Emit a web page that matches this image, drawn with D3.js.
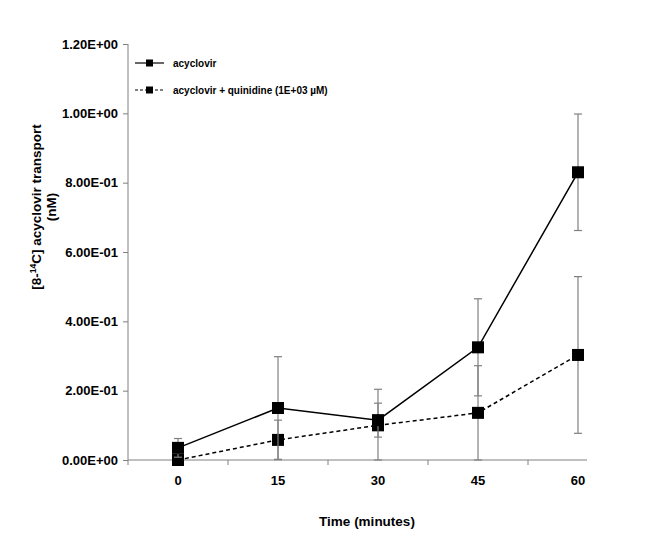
<!DOCTYPE html>
<head>
    <meta charset="utf-8">
    <script src="https://d3js.org/d3.v7.min.js"></script>
</head>
<style>
    body { margin: 0; background: #fff; }
    text { font-family: Arial, "Liberation Sans", sans-serif; font-weight: bold; fill: #000; }
</style>
<body>
    <div id="chart"></div>
</body>

<script>
    // time points (minutes)
    const times = ["0", "15", "30", "45", "60"];
    // acyclovir alone
    const acyclovir = [0.035, 0.150, 0.115, 0.325, 0.830];
    const acyclovirErr = [0.027, 0.148, 0.049, 0.140, 0.168];
    // acyclovir + quinidine
    const quinidine = [0.000, 0.058, 0.100, 0.136, 0.303];
    const quinidineErr = [0.000, 0.057, 0.104, 0.136, 0.226];
    const yTicks = [0, 0.2, 0.4, 0.6, 0.8, 1.0, 1.2];
    const seriesNames = ["acyclovir", "acyclovir + quinidine (1E+03 \u00b5M)"];

    const W = 672, H = 556;
    const margin = {top: 44, right: 85, bottom: 96, left: 128},
        width = W - margin.left - margin.right,
        height = H - margin.top - margin.bottom;

    const svg = d3.select("#chart")
        .append("svg")
        .attr("width", W)
        .attr("height", H)
        .append("g")
        .attr("transform", `translate(${margin.left},${margin.top})`);

    // category bands of 100px, the axis line is cut a little short like the original
    const x = d3.scaleBand()
        .domain(times)
        .range([0, 500]);
    const y = d3.scaleLinear()
        .domain([0, 1.2])
        .range([height, 0]);

    const grey = "#808080";

    // y axis
    const yAxis = svg.append("g")
        .call(d3.axisLeft(y).tickValues(yTicks).tickSize(5).tickPadding(5)
            .tickFormat(d => d.toExponential(2).toUpperCase().replace(/E([+-])(\d)$/, "E$10$2")));
    yAxis.select(".domain").attr("stroke", grey).attr("d", `M0,0V${height}`);
    yAxis.selectAll(".tick line").attr("stroke", grey);
    yAxis.selectAll(".tick text").style("font-size", "13px");

    // x axis: ticks between categories, labels at centres
    const xg = svg.append("g").attr("transform", `translate(0,${height})`);
    xg.append("line")
        .attr("x1", 0).attr("x2", width)
        .attr("stroke", grey);
    xg.selectAll(".xt")
        .data(times)
        .join("line")
        .attr("x1", d => x(d)).attr("x2", d => x(d))
        .attr("y1", 0).attr("y2", 5)
        .attr("stroke", grey);
    xg.selectAll(".xl")
        .data(times)
        .join("text")
        .attr("x", d => x(d) + x.bandwidth() / 2)
        .attr("y", 25)
        .attr("text-anchor", "middle")
        .style("font-size", "13px")
        .text(d => d);

    // axis titles
    svg.append("text")
        .attr("x", 239)
        .attr("y", height + 66)
        .attr("text-anchor", "middle")
        .style("font-size", "13.5px")
        .text("Time (minutes)");

    const yt = svg.append("text")
        .attr("transform", `translate(-87,${163}) rotate(-90)`)
        .attr("text-anchor", "middle")
        .style("font-size", "13.5px");
    const l1 = yt.append("tspan").attr("x", 0).attr("dy", 0);
    l1.append("tspan").text("[8-");
    l1.append("tspan").attr("dy", -5).style("font-size", "8.5px").text("14");
    l1.append("tspan").attr("dy", 5).text("C] acyclovir transport");
    yt.append("tspan").attr("x", 0).attr("dy", 15).text("(nM)");

    const cx = d => x(d) + x.bandwidth() / 2;

    function drawSeries(vals, errs, dash) {
        const g = svg.append("g");
        const pts = times.map((t, i) => ({t: t, v: vals[i], e: errs[i]}));
        // error bars
        pts.filter(d => d.e > 0).forEach(d => {
            g.append("line")
                .attr("x1", cx(d.t)).attr("x2", cx(d.t))
                .attr("y1", y(d.v + d.e)).attr("y2", y(Math.max(0, d.v - d.e)))
                .attr("stroke", grey).attr("stroke-width", 1.2);
            [d.v + d.e, Math.max(0, d.v - d.e)].forEach(e => {
                g.append("line")
                    .attr("x1", cx(d.t) - 4).attr("x2", cx(d.t) + 4)
                    .attr("y1", y(e)).attr("y2", y(e))
                    .attr("stroke", grey).attr("stroke-width", 1.2);
            });
        });
        g.append("path")
            .datum(pts)
            .attr("fill", "none")
            .attr("stroke", "#000")
            .attr("stroke-width", 1.5)
            .attr("stroke-dasharray", dash)
            .attr("d", d3.line().x(d => cx(d.t)).y(d => y(d.v)));
        g.selectAll("rect")
            .data(pts)
            .join("rect")
            .attr("x", d => cx(d.t) - 6)
            .attr("y", d => y(d.v) - 6)
            .attr("width", 12).attr("height", 12)
            .attr("fill", "#000");
    }
    drawSeries(quinidine, quinidineErr, "4,3");
    drawSeries(acyclovir, acyclovirErr, null);

    // legend
    const leg = svg.append("g").attr("transform", "translate(7,19)");
    seriesNames.forEach((name, i) => {
        const row = leg.append("g").attr("transform", `translate(0,${i * 27})`);
        row.append("line")
            .attr("x1", 0).attr("x2", 29)
            .attr("stroke", "#000").attr("stroke-width", 1.2)
            .attr("stroke-dasharray", i === 1 ? "3,2" : null);
        row.append("rect")
            .attr("x", 11).attr("y", -3.5)
            .attr("width", 7).attr("height", 7)
            .attr("fill", "#000");
        row.append("text")
            .attr("x", 38).attr("y", 4)
            .style("font-size", "10px")
            .text(name);
    });
</script>
